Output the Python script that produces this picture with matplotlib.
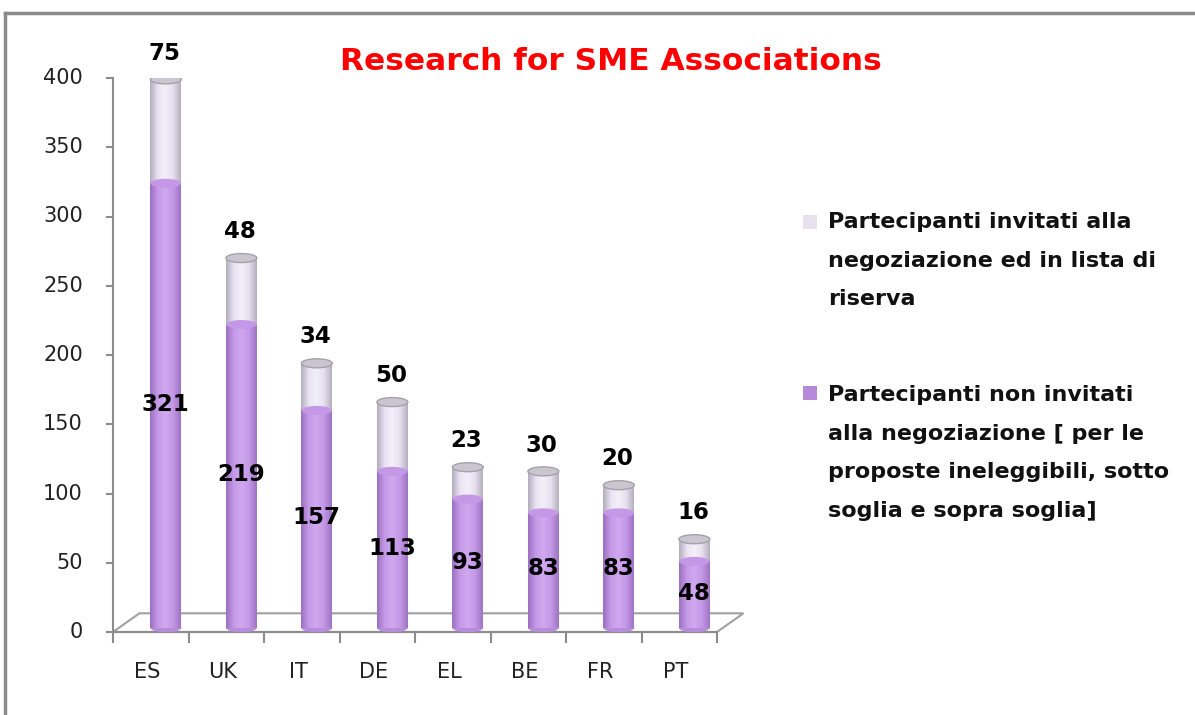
import matplotlib
matplotlib.use('Agg')
import matplotlib.pyplot as plt
import numpy as np
from matplotlib.patches import Ellipse, Rectangle, Polygon
from matplotlib.lines import Line2D
from matplotlib.colors import LinearSegmentedColormap

plt.rcParams['font.family'] = ['DejaVu Sans']

cats = ['ES', 'UK', 'IT', 'DE', 'EL', 'BE', 'FR', 'PT']
non_invited = [321, 219, 157, 113, 93, 83, 83, 48]
invited = [75, 48, 34, 50, 23, 30, 20, 16]
title = 'Research for SME Associations'
leg_labels = ['Partecipanti invitati alla\nnegoziazione ed in lista di\nriserva',
              'Partecipanti non invitati\nalla negoziazione [ per le\nproposte ineleggibili, sotto\nsoglia e sopra soglia]']

W, H = 1195, 715
fig = plt.figure(figsize=(W / 100, H / 100), dpi=100)
fig.patch.set_facecolor('white')

# axes: x 113..717 px, y 0 at 632 px, 400 at 78 px
ax = fig.add_axes([113 / W, (H - 632) / H, (717 - 113) / W, (632 - 78) / H])
ax.set_xlim(-0.5, 7.5)
ax.set_ylim(0, 400)
ax.axis('off')

# shading colormaps for the cylinders
purple = LinearSegmentedColormap.from_list('p', ['#9c70c0', '#c59ae8', '#d0a8f0', '#c398e6', '#9f74c2'])
pale = LinearSegmentedColormap.from_list('l', ['#b3adbd', '#e9e3f2', '#f4f0fa', '#e5dfee', '#b5afbf'])
grad = np.linspace(0, 1, 64).reshape(1, -1)

gray = '#8c8c8c'
# floor of the 3D plot
dxb, dyb = 0.35, 13.5
floor = Polygon([(-0.5, 0), (7.5, 0), (7.5 + dxb, dyb), (-0.5 + dxb, dyb)],
                closed=True, facecolor='white', edgecolor='#a0a0a0', lw=1.5, zorder=1, clip_on=False)
ax.add_patch(floor)

# axes lines and ticks
ax.add_line(Line2D([-0.5, -0.5], [0, 400], color=gray, lw=1.5, clip_on=False))
ax.add_line(Line2D([-0.5, 7.5], [0, 0], color=gray, lw=1.5, clip_on=False))
for v in range(0, 401, 50):
    ax.add_line(Line2D([-0.5 - 0.08, -0.5], [v, v], color=gray, lw=1.5, clip_on=False))
    ax.text(-0.5 - 0.4, v, str(v), ha='right', va='center', fontsize=15, color='#222222')
for i in range(9):
    ax.add_line(Line2D([i - 0.5, i - 0.5], [0, -7], color=gray, lw=1.5, clip_on=False))
for i, c in enumerate(cats):
    ax.text(i - 0.05, -29, c, ha='center', va='center', fontsize=15, color='#222222')

bw = 0.41
eh = 6.5
off = 0.2
for i in range(len(cats)):
    xc = i + off
    a, b = non_invited[i], invited[i]
    base = 3
    # lower segment
    ax.imshow(grad, cmap=purple, extent=(xc - bw / 2, xc + bw / 2, base, base + a),
              aspect='auto', zorder=3, interpolation='bilinear')
    ax.add_patch(Ellipse((xc, base), bw, eh, facecolor='#b88cdc', edgecolor='none', zorder=2.9))
    # upper segment
    ax.imshow(grad, cmap=pale, extent=(xc - bw / 2, xc + bw / 2, base + a, base + a + b),
              aspect='auto', zorder=3, interpolation='bilinear')
    ax.add_patch(Ellipse((xc, base + a), bw * 0.98, eh, facecolor='#c497e7', edgecolor='none', zorder=3.1))
    ax.add_patch(Ellipse((xc, base + a + b), bw, eh, facecolor='#cac6cf', edgecolor='#a5a1aa', lw=1, zorder=3.2))
    ax.text(xc, a / 2 + 4, str(a), ha='center', va='center', fontsize=16.5, fontweight='bold', zorder=5)
    ax.text(xc - 0.02, a + b + 22, str(b), ha='center', va='center', fontsize=16.5, fontweight='bold', zorder=5)

ax.set_xlim(-0.5, 7.5)
ax.set_ylim(0, 400)

fig.text(611 / W, 1 - 62 / H, title, ha='center', va='center', fontsize=22.5,
         fontweight='bold', color='#ff0000')

# legend
sq = 14
fig.patches.append(Rectangle((803 / W, 1 - 229 / H), sq / W, sq / H, transform=fig.transFigure,
                             facecolor='#e6e1ec', edgecolor='none'))
fig.patches.append(Rectangle((803 / W, 1 - 400 / H), sq / W, sq / H, transform=fig.transFigure,
                             facecolor='#b68ad9', edgecolor='none'))
fig.text(828 / W, 1 - 212 / H, leg_labels[0], ha='left', va='top', fontsize=16,
         fontweight='bold', linespacing=2.17, color='#111111')
fig.text(828 / W, 1 - 385 / H, leg_labels[1], ha='left', va='top', fontsize=16,
         fontweight='bold', linespacing=2.17, color='#111111')

# outer frame
fig.add_artist(Line2D([5 / W, 1], [1 - 13 / H, 1 - 13 / H], transform=fig.transFigure, color='#8a8a8a', lw=2.5))
fig.add_artist(Line2D([5 / W, 5 / W], [1 - 13 / H, 0], transform=fig.transFigure, color='#8a8a8a', lw=2.5))

fig.savefig('out.png', dpi=100)
